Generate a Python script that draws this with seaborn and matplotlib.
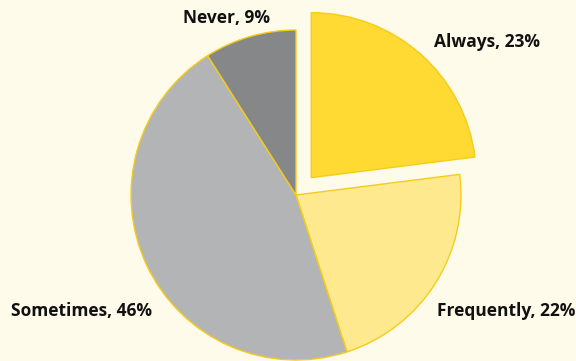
import matplotlib
matplotlib.use("Agg")
import matplotlib.pyplot as plt
import seaborn as sns

categories = ["Always", "Frequently", "Sometimes", "Never"]
values = [23, 22, 46, 9]
colors = ["#FFDA33", "#FFE98F", "#B3B4B6", "#868788"]
explode = [0.14, 0, 0, 0]
label_pos = [(1.158, 0.927), (1.273, -0.703), (-1.297, -0.703), (-0.424, 1.073)]

sns.set_theme(style="white")
plt.rcParams['font.family'] = ['Open Sans', 'DejaVu Sans']

bg = "#FFFBEA"
fig = plt.figure(figsize=(5.76, 3.61), dpi=100, facecolor=bg)
ax = fig.add_axes([0, 0, 1, 1])
ax.set_facecolor(bg)

ax.pie(values, colors=colors, explode=explode, startangle=90, counterclock=False,
       radius=1.0, wedgeprops=dict(edgecolor="#F5CC1A", linewidth=1.0))

for cat, v, (x, y) in zip(categories, values, label_pos):
    ax.text(x, y, f"{cat}, {v}%", ha="center", va="center", fontsize=12.5,
            fontweight="bold", color="#111111")

ax.set_xlim(-296/165, (576-296)/165)
ax.set_ylim(-(361-195)/165, 195/165)
ax.set_aspect("equal")
ax.axis("off")
fig.savefig("out.png", dpi=100, facecolor=bg)
